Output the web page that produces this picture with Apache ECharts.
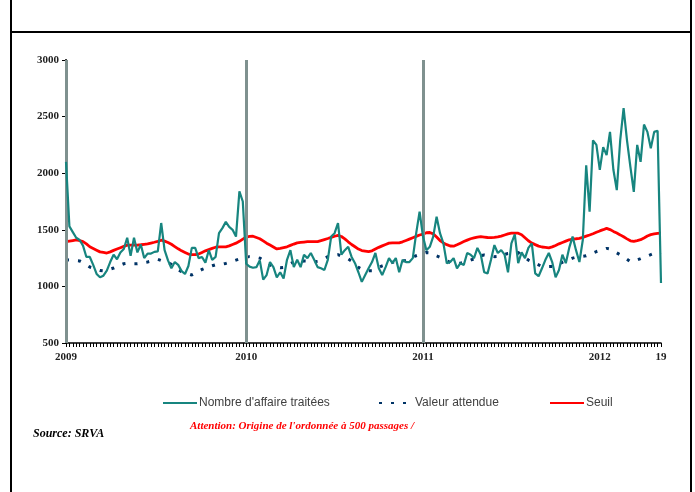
<!DOCTYPE html>
<html>
<head>
<meta charset="utf-8">
<script src="https://cdn.jsdelivr.net/npm/echarts@6/dist/echarts.min.js"></script>
<style>html,body{margin:0;padding:0;background:#fff}#c{width:695px;height:492px}</style>
</head>
<body>
<div id="c"></div>
<script>
// Weeks: 2009 (53 ISO weeks), 2010 (52), 2011 (52), 2012 weeks 1-19
const yearWeeks = [["2009", 53], ["2010", 52], ["2011", 52], ["2012", 19]];
const tickLabelIdx = [0, 53, 105, 157, 175];
const tickLabels = ["2009", "2010", "2011", "2012", "19"];
const yearLineIdx = [0, 53, 105];

const affaires = [2100,1530,1480,1430,1410,1360,1260,1260,1190,1110,1080,1095,1140,1215,1280,1240,1300,1330,1430,1270,
1430,1300,1370,1250,1290,1290,1305,1310,1560,1320,1230,1160,1215,1190,1135,1110,1180,1340,1340,1250,
1260,1210,1320,1235,1260,1470,1515,1570,1525,1500,1440,1840,1750,1200,1175,1165,1170,1230,1060,1100,
1215,1170,1080,1125,1070,1235,1320,1170,1235,1170,1280,1250,1295,1235,1170,1160,1145,1235,1440,1470,
1560,1280,1320,1350,1260,1205,1125,1040,1100,1160,1215,1295,1160,1100,1170,1250,1205,1250,1125,1235,
1215,1215,1250,1470,1660,1440,1320,1350,1440,1615,1470,1380,1205,1215,1250,1160,1205,1190,1295,1280,
1250,1340,1280,1125,1115,1235,1365,1295,1320,1280,1125,1380,1460,1205,1300,1250,1340,1380,1115,1090,
1160,1235,1295,1215,1080,1145,1280,1205,1340,1440,1320,1215,1410,2070,1660,2290,2250,2030,2230,2160,
2365,2030,1850,2290,2575,2290,2055,1835,2250,2100,2430,2365,2220,2365,2375,1030];

const attendue = [1235,1233,1230,1228,1225,1209,1190,1171,1161,1151,1141,1138,1145,1153,1162,1175,1188,1200,1204,1202,
1201,1201,1206,1211,1216,1223,1231,1239,1228,1218,1210,1195,1171,1148,1129,1120,1110,1101,1117,1133,
1150,1162,1172,1182,1191,1194,1197,1203,1212,1222,1232,1242,1251,1260,1263,1260,1257,1250,1231,1212,
1190,1177,1170,1164,1167,1185,1202,1216,1219,1221,1224,1223,1220,1217,1221,1235,1249,1262,1268,1274,
1280,1267,1255,1243,1222,1195,1168,1151,1145,1139,1139,1153,1167,1181,1192,1202,1213,1217,1220,1223,
1229,1243,1257,1271,1281,1290,1300,1297,1284,1269,1256,1241,1226,1212,1205,1205,1205,1212,1221,1232,
1244,1257,1271,1278,1273,1268,1263,1265,1274,1283,1291,1294,1297,1299,1277,1255,1233,1219,1204,1190,
1175,1175,1175,1176,1188,1200,1213,1225,1237,1250,1258,1262,1266,1270,1283,1296,1308,1318,1327,1336,
1330,1313,1296,1279,1261,1240,1218,1223,1234,1245,1257,1269,1281,1293,1297,1300];

const seuil = [1395,1400,1405,1410,1405,1395,1375,1350,1335,1320,1305,1300,1295,1305,1318,1330,1342,1354,1365,1365,
1365,1365,1368,1372,1376,1383,1390,1398,1408,1400,1388,1372,1352,1332,1314,1300,1286,1280,1280,1286,
1300,1314,1325,1336,1346,1350,1350,1350,1358,1370,1382,1398,1418,1436,1442,1443,1432,1421,1402,1382,
1365,1348,1331,1336,1343,1350,1362,1374,1385,1389,1392,1395,1395,1395,1396,1405,1414,1423,1433,1443,
1450,1441,1420,1394,1370,1350,1330,1317,1312,1307,1314,1330,1345,1358,1370,1382,1385,1385,1385,1394,
1406,1418,1430,1442,1454,1462,1474,1476,1464,1436,1405,1384,1369,1357,1355,1368,1382,1396,1409,1421,
1428,1435,1439,1436,1432,1431,1434,1438,1444,1454,1464,1470,1470,1470,1457,1430,1403,1383,1369,1356,
1348,1345,1341,1349,1362,1376,1388,1400,1412,1418,1421,1425,1433,1444,1454,1465,1478,1490,1501,1513,
1502,1486,1471,1455,1438,1420,1403,1398,1405,1413,1428,1445,1457,1463,1468,1470];

const seriesNames = ["Nombre d'affaire traitées", "Valeur attendue", "Seuil"];

const categories = [];
yearWeeks.forEach(([y, n]) => { for (let w = 1; w <= n; w++) categories.push(y + "-S" + w); });

const chart = echarts.init(document.getElementById('c'), null, {renderer: 'canvas'});
const legendText = {color: '#404040', fontSize: 12, fontFamily: 'Liberation Sans, Arial, sans-serif', padding: [0, 0, 0, -3]};
const legendBase = {itemWidth: 34, itemHeight: 12, textStyle: legendText, selectedMode: false,
  itemStyle: {opacity: 0, borderWidth: 0}};
const option = {
  backgroundColor: '#ffffff',
  animation: false,
  grid: {left: 66, right: 34, top: 60, bottom: 149, containLabel: false},
  legend: [
    Object.assign({data: [seriesNames[0]], left: 157, top: 392}, legendBase),
    Object.assign({data: [seriesNames[1]], left: 373, top: 392}, legendBase),
    Object.assign({data: [seriesNames[2]], left: 544, top: 392}, legendBase)
  ],
  xAxis: {
    type: 'category', data: categories, boundaryGap: false,
    axisLine: {show: true, lineStyle: {color: '#000', width: 1.5}},
    axisTick: {show: true, interval: 0, length: 4, lineStyle: {color: '#000', width: 1}},
    axisLabel: {
      interval: (idx) => tickLabelIdx.indexOf(idx) >= 0,
      formatter: (v, idx) => { const k = tickLabelIdx.indexOf(idx); return k >= 0 ? tickLabels[k] : ''; },
      color: '#222', fontFamily: 'Liberation Serif, Times New Roman, serif', fontWeight: 'bold', fontSize: 11, margin: 9
    },
    splitLine: {show: false}
  },
  yAxis: {
    type: 'value', min: 500, max: 3000, interval: 500,
    axisLine: {show: true, lineStyle: {color: '#000', width: 2}},
    axisTick: {show: true, length: 4, lineStyle: {color: '#000'}},
    axisLabel: {formatter: (v) => String(v), color: '#222', fontFamily: 'Liberation Serif, Times New Roman, serif', fontWeight: 'bold', fontSize: 11, margin: 7},
    splitLine: {show: false}
  },
  series: [
    {
      name: 'years', type: 'line', data: [], silent: true, z: 1,
      markLine: {
        silent: true, symbol: ['none', 'none'], label: {show: false},
        lineStyle: {color: '#7f918f', width: 3, type: 'solid'},
        data: yearLineIdx.map(i => ({xAxis: categories[i]}))
      }
    },
    {
      name: seriesNames[2], type: 'line', data: seuil, showSymbol: false, symbol: 'none', z: 3,
      lineStyle: {color: '#ff0000', width: 2.8}, itemStyle: {color: '#ff0000'}
    },
    {
      name: seriesNames[1], type: 'line', data: attendue, showSymbol: false, symbol: 'none', z: 4,
      lineStyle: {color: '#003366', width: 3, type: [3, 9], cap: 'butt'}, itemStyle: {color: '#003366'}
    },
    {
      name: seriesNames[0], type: 'line', data: affaires, showSymbol: false, symbol: 'none', z: 5,
      lineStyle: {color: '#17857f', width: 2.2}, itemStyle: {color: '#17857f'}
    }
  ],
  graphic: [
    {type: 'line', shape: {x1: 11, y1: 0, x2: 11, y2: 492}, style: {stroke: '#000', lineWidth: 2}},
    {type: 'line', shape: {x1: 691, y1: 0, x2: 691, y2: 492}, style: {stroke: '#000', lineWidth: 2}},
    {type: 'line', shape: {x1: 11, y1: 32, x2: 691, y2: 32}, style: {stroke: '#000', lineWidth: 2}},
    {type: 'text', left: 33, top: 428, style: {text: 'Source: SRVA', fill: '#000', font: 'italic bold 12px Liberation Serif, serif'}},
    {type: 'text', left: 190, top: 421, style: {text: "Attention: Origine de l'ordonnée à 500 passages /", fill: '#ff0000', font: 'italic bold 11px Liberation Serif, serif'}}
  ]
};
chart.setOption(option);
</script>
</body>
</html>
